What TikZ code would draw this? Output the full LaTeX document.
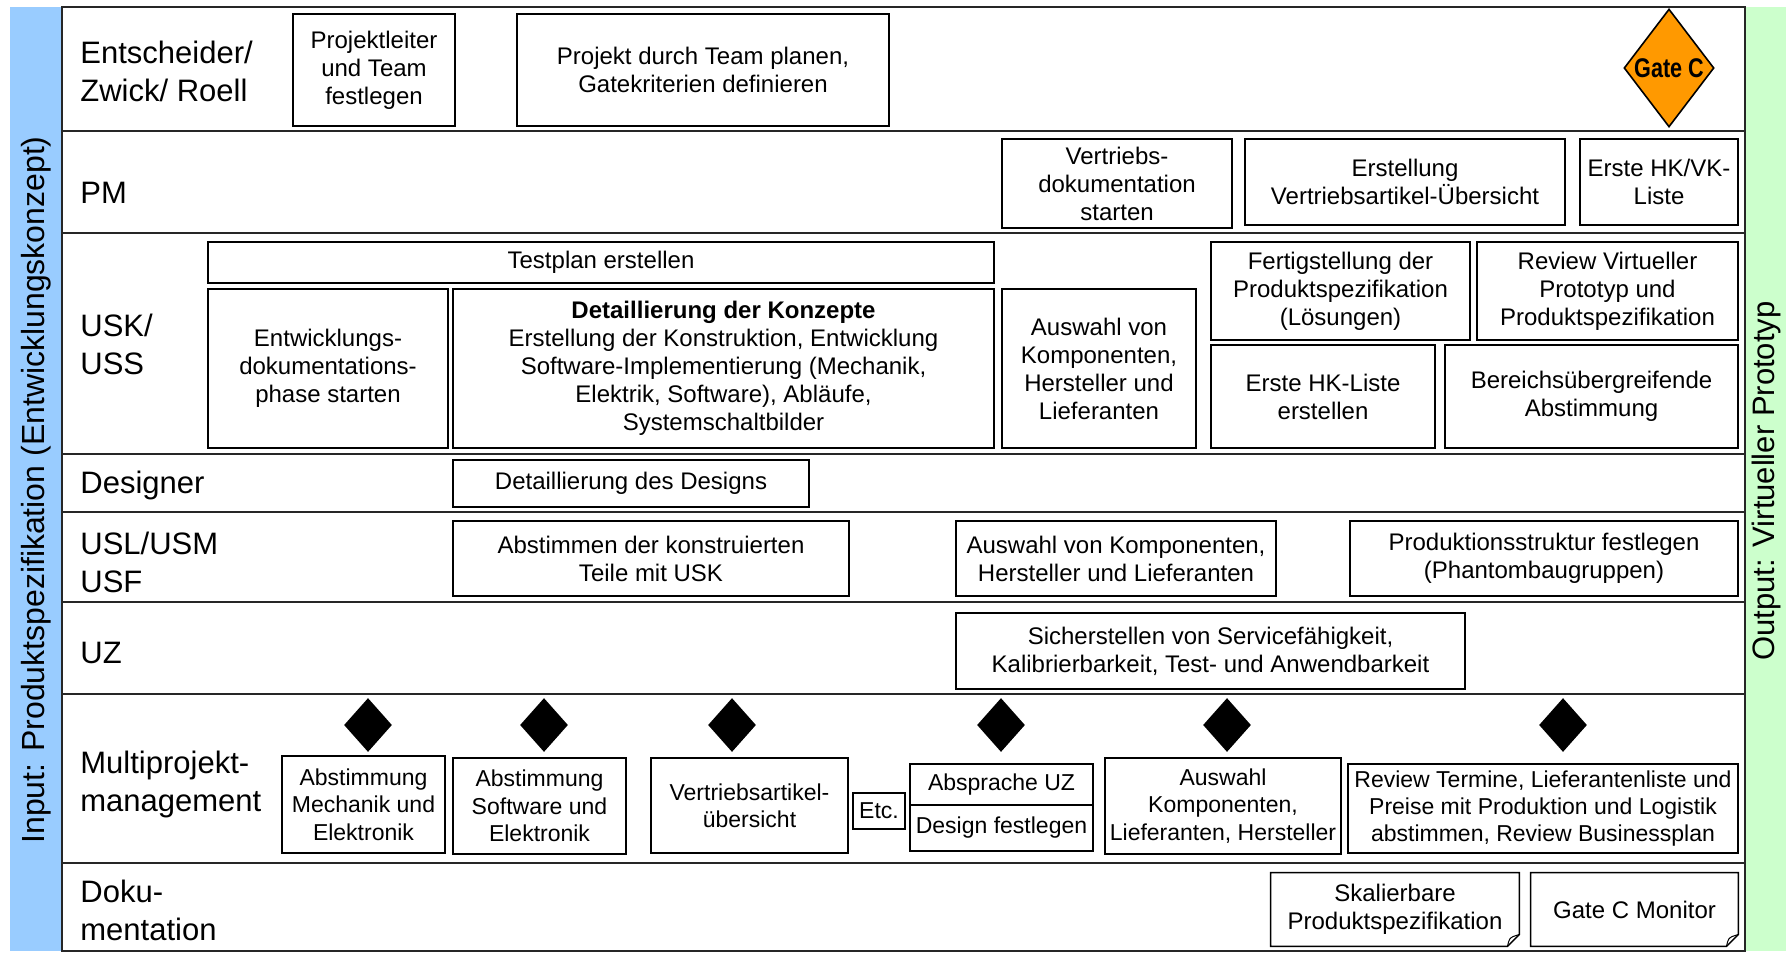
\documentclass[tikz,border=0pt]{standalone}
\usepackage{fontspec}
\setmainfont{Liberation Sans}
\newfontfamily\gatefont[FakeStretch=0.8]{Liberation Sans}
\usetikzlibrary{shapes.geometric,calc}

\definecolor{barblue}{RGB}{153,204,255}
\definecolor{bargreen}{RGB}{204,255,204}
\definecolor{gateorange}{RGB}{255,153,0}

\begin{document}
\begin{tikzpicture}[x=0.5pt,y=-0.5pt,
  lane/.style={line width=1.2pt,draw=black!85},
  role/.style={anchor=west,align=left,inner sep=0pt,font=\fontsize{15.5}{19}\selectfont},
  task/.style={draw,line width=0.7pt,align=center,inner sep=2pt,font=\fontsize{12}{14}\selectfont},
  mtask/.style={task,inner sep=1pt,font=\fontsize{11.5}{13.7}\selectfont},
  wh/.style 2 args={minimum width=#1*0.5pt,minimum height=#2*0.5pt},
  milestone/.style={diamond,fill=black,inner sep=0pt,minimum width=24pt,minimum height=27pt},
  doc/.style={align=center,inner sep=2pt,font=\fontsize{12}{14}\selectfont}]
  \useasboundingbox (0,0) rectangle (1791,958);
  \fill[white] (0,0) rectangle (1791,958);
  % input / output bars
  \fill[barblue] (10,7) rectangle (62,951);
  \fill[bargreen] (1745,7) rectangle (1786,951);
  \node[rotate=90,font=\fontsize{16}{19}\selectfont] (input) at (36,490) {Input: Produktspezifikation (Entwicklungskonzept)};
  \node[rotate=90,font=\fontsize{15.5}{19}\selectfont] (output) at (1766,481) {Output: Virtueller Prototyp};
  % lanes
  \draw[lane] (62,7) rectangle (1745,951);
  \foreach \y in {131,233,454,512,602,694,863}
    \draw[lane] (62,\y) -- (1745,\y);
  \node[role] (r1) at (80,71) {Entscheider/\\Zwick/ Roell};
  \node[role] (r2) at (80,193) {PM};
  \node[role] (r3) at (80,344) {USK/\\USS};
  \node[role] (r4) at (80,485) {Designer};
  \node[role] (r5) at (80,562) {USL/USM\\USF};
  \node[role] (r6) at (80,653) {UZ};
  \node[role] (r7) at (80,784) {Multiprojekt-\\management};
  \node[role] (r8) at (80,910) {Doku-\\mentation};
  % Entscheider
  \node[task,wh={162}{112}] (pl) at (374,70) {Projektleiter\\und Team\\festlegen};
  \node[task,wh={372}{112}] (plan) at (703,70) {Projekt durch Team planen,\\Gatekriterien definieren};
  \node[diamond,draw,line width=0.8pt,fill=gateorange,inner sep=-1.5pt,minimum width=45pt,minimum height=59pt,
        font=\gatefont\bfseries\fontsize{13.5}{15}\selectfont] (gate) at (1669,68) {Gate C};
  % PM
  \node[task,wh={230}{89}] (vd) at (1117,183.5) {Vertriebs-\\dokumentation\\starten};
  \node[task,wh={320}{86}] (eva) at (1405,182) {Erstellung\\Vertriebsartikel-Übersicht};
  \node[task,wh={158}{86}] (hkvk) at (1659,182) {Erste HK/VK-\\Liste};
  % USK/USS
  \node[task,wh={786}{41}] (test) at (601,262.5) {Testplan erstellen};
  \node[task,wh={240}{159}] (edp) at (328,368.5) {Entwicklungs-\\dokumentations-\\phase starten};
  \node[task,wh={541}{159}] (dk) at (723.5,368.5) {\textbf{Detaillierung der Konzepte}\\Erstellung der Konstruktion, Entwicklung\\Software-Implementierung (Mechanik,\\Elektrik, Software), Abläufe,\\Systemschaltbilder};
  \node[task,wh={194}{159}] (awk) at (1099,368.5) {Auswahl von\\Komponenten,\\Hersteller und\\Lieferanten};
  \node[task,wh={259}{98}] (fps) at (1340.5,291) {Fertigstellung der\\Produktspezifikation\\(Lösungen)};
  \node[task,wh={261}{98}] (rvp) at (1607.5,291) {Review Virtueller\\Prototyp und\\Produktspezifikation};
  \node[task,wh={224}{103}] (hkl) at (1323,396.5) {Erste HK-Liste\\erstellen};
  \node[task,wh={293}{103}] (bua) at (1591.5,396.5) {Bereichsübergreifende\\Abstimmung};
  % Designer
  \node[task,wh={356}{47}] (dd) at (631,483.5) {Detaillierung des Designs};
  % USL/USM USF
  \node[task,wh={396}{75}] (akt) at (651,558.5) {Abstimmen der konstruierten\\Teile mit USK};
  \node[task,wh={320}{75}] (awl) at (1116,558.5) {Auswahl von Komponenten,\\Hersteller und Lieferanten};
  \node[task,wh={388}{75}] (pst) at (1544,558.5) {Produktionsstruktur festlegen\\(Phantombaugruppen)};
  % UZ
  \node[task,wh={509}{76}] (svc) at (1210.5,651) {Sicherstellen von Servicefähigkeit,\\Kalibrierbarkeit, Test- und Anwendbarkeit};
  % Multiprojektmanagement
  \foreach \x [count=\i] in {368,544,732,1001,1227,1563}
    \node[milestone] (ms\i) at (\x,725) {};
  \node[mtask,wh={163}{97}] (amE) at (363.5,804.5) {Abstimmung\\Mechanik und\\Elektronik};
  \node[mtask,wh={173}{96}] (asE) at (539.5,806) {Abstimmung\\Software und\\Elektronik};
  \node[mtask,wh={197}{95}] (vau) at (749.5,805.5) {Vertriebsartikel-\\übersicht};
  \node[mtask,wh={52}{36}] (etc) at (879,811) {Etc.};
  \node[mtask,wh={183}{41}] (auz) at (1001.5,784.5) {Absprache UZ};
  \node[mtask,wh={183}{46}] (dfl) at (1001.5,828) {Design festlegen};
  \node[mtask,wh={236}{96}] (akl) at (1223,806) {Auswahl\\Komponenten,\\Lieferanten, Hersteller};
  \node[mtask,wh={390}{89}] (rtl) at (1543,808.5) {Review Termine, Lieferantenliste und\\Preise mit Produktion und Logistik\\abstimmen, Review Businessplan};
  % Dokumentation
  \node[doc,wh={248}{73}] (skp) at (1395,909.5) {Skalierbare\\Produktspezifikation};
  \node[doc,wh={207}{73}] (gcm) at (1634.5,909.5) {Gate C Monitor};
  \foreach \n in {skp,gcm} {
    \draw[line width=0.7pt] (\n.north west) -- (\n.north east) -- ($(\n.south east)+(0,6pt)$)
      -- ($(\n.south east)+(-6pt,0)$) -- (\n.south west) -- cycle;
    \draw[line width=0.5pt] ($(\n.south east)+(-6pt,0)$) .. controls ($(\n.south east)+(-5pt,4pt)$)
      .. ($(\n.south east)+(-3pt,5pt)$) -- ($(\n.south east)+(0,6pt)$);
  }
\end{tikzpicture}
\end{document}
